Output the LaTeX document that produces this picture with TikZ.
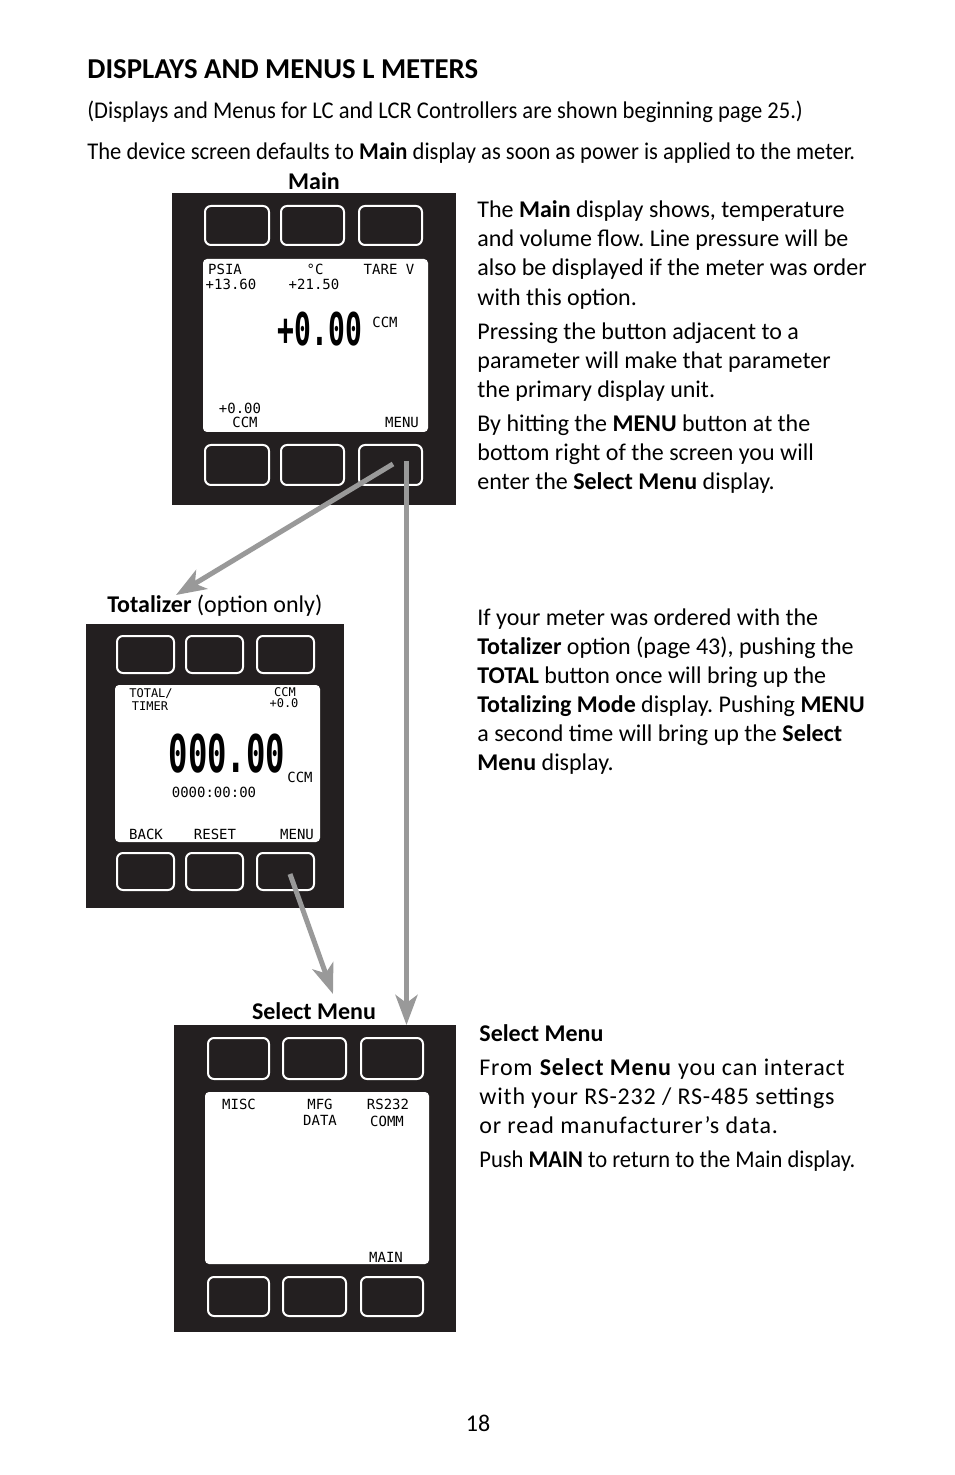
\documentclass[tikz,border=0pt]{standalone}
\usepackage{fontspec}
\setmainfont{Carlito}
\newfontfamily\lcdfont{DejaVu Sans Mono}
\newfontfamily\lcdbigfont[FakeStretch=0.62]{DejaVu Sans Mono}
\newfontfamily\narrowfont[FakeStretch=0.94]{Carlito}
\newfontfamily\widefont[LetterSpace=3.4]{Carlito}
\usetikzlibrary{arrows.meta}
\usepackage{xcolor}
\definecolor{panel}{HTML}{231F20}
\definecolor{arrowgray}{HTML}{999999}
\frenchspacing

\tikzset{
  body/.style={anchor=base west,inner sep=0,font=\fontsize{12}{14}\selectfont},
  lcd/.style={inner sep=0,font={\lcdfont\fontsize{7}{7.5}\selectfont}},
  lcdsmall/.style={inner sep=0,font={\lcdfont\fontsize{6}{6.5}\selectfont}},
  key/.style={draw=white,line width=1pt,rounded corners=3pt},
  flow/.style={draw=arrowgray,line width=2.5pt,-{Stealth[length=15pt,width=11pt,inset=4pt]}}
}

\begin{document}
\begin{tikzpicture}[x=0.5pt,y=-0.5pt]
  \fill[white] (0,0) rectangle (954,1475);
  \useasboundingbox (0,0) rectangle (954,1475);

  \node[anchor=base west,inner sep=0,font=\bfseries\fontsize{14.4}{16}\selectfont] (title) at (87,79) {DISPLAYS AND MENUS L METERS};
  \node[body,font={\narrowfont\fontsize{12}{14}\selectfont}] (intro1) at (87,119) {(Displays and Menus for LC and LCR Controllers are shown beginning page 25.)};
  \node[body,font={\narrowfont\fontsize{12}{14}\selectfont}] (intro2) at (87,160) {The device screen defaults to \textbf{Main} display as soon as power is applied to the meter.};

  \node[body,anchor=base,font=\bfseries\fontsize{12}{14}\selectfont] (mainlabel) at (314,190) {Main};
  \node[body] (totlabel) at (107,612) {\textbf{Totalizer} (option only)};
  \node[body,anchor=base,font=\bfseries\fontsize{12}{14}\selectfont] (sellabel) at (314,1019) {Select Menu};

  % main display
  \fill[panel] (172,193) rectangle (456,505);
  \foreach \a/\b in {205/269,281/344,359/422}{
    \draw[key] (\a,206) rectangle (\b,245);
    \draw[key] (\a,445) rectangle (\b,485);
  }
  \fill[white,rounded corners=2pt] (203,259) rectangle (428,432);
  \node[lcd] (psia) at (225,269) {PSIA};
  \node[lcd] (psiaval) at (231,284) {+13.60};
  \node[lcd] (degc) at (315,269) {°C};
  \node[lcd] (degcval) at (314,284) {+21.50};
  \node[lcd] (tare) at (389,269) {TARE V};
  \node[inner sep=0,font={\lcdbigfont\bfseries\fontsize{22.6}{24}\selectfont}] (flowval) at (320,329) {+0.00};
  \node[lcd] (flowunit) at (385,322) {CCM};
  \node[lcd] (smallval) at (240,408) {+0.00};
  \node[lcd] (smallunit) at (245,422) {CCM};
  \node[lcd] (mainmenu) at (402,422) {MENU};

  % totalizer display
  \fill[panel] (86,624) rectangle (344,908);
  \foreach \a/\b in {117/174,186/243,257/314}{
    \draw[key] (\a,636) rectangle (\b,673);
    \draw[key] (\a,853) rectangle (\b,890);
  }
  \fill[white,rounded corners=2pt] (115,685) rectangle (320,842);
  \node[lcdsmall] (totaltop) at (151,694) {TOTAL/};
  \node[lcdsmall] (timer) at (150,706) {TIMER};
  \node[lcdsmall] (totunit) at (285,692) {CCM};
  \node[lcdsmall] (totrate) at (284,703) {+0.0};
  \node[inner sep=0,font={\lcdbigfont\bfseries\fontsize{26}{28}\selectfont}] (totval) at (227,754) {000.00};
  \node[lcd] (totvalunit) at (300,777) {CCM};
  \node[lcd] (clock) at (214,792) {0000:00:00};
  \node[lcd] (back) at (146,834) {BACK};
  \node[lcd] (reset) at (215,834) {RESET};
  \node[lcd] (totmenu) at (297,834) {MENU};

  % select menu display
  \fill[panel] (174,1025) rectangle (456,1332);
  \foreach \a/\b in {208/269,283/346,361/423}{
    \draw[key] (\a,1038) rectangle (\b,1079);
    \draw[key] (\a,1277) rectangle (\b,1316);
  }
  \fill[white,rounded corners=2pt] (205,1092) rectangle (429,1264);
  \node[lcd] (misc) at (239,1104) {MISC};
  \node[lcd] (mfg) at (320,1104) {MFG};
  \node[lcd] (mfgdata) at (320,1120) {DATA};
  \node[lcd] (rscomm) at (388,1104) {RS232};
  \node[lcd] (comm) at (387,1121) {COMM};
  \node[lcd] (selmain) at (386,1257) {MAIN};

  % right column
  \foreach \t [count=\i from 0] in {{The \textbf{Main} display shows, temperature},{and volume flow. Line pressure will be},{also be displayed if the meter was order},{with this option.}}
    \node[body] (maintxt\i) at (477,217.5+29.2*\i) {\t};
  \foreach \t [count=\i from 0] in {{Pressing the button adjacent to a},{parameter will make that parameter},{the primary display unit.}}
    \node[body] (presstxt\i) at (477,339.5+29.2*\i) {\t};
  \foreach \t [count=\i from 0] in {{By hitting the \textbf{MENU} button at the},{bottom right of the screen you will},{enter the \textbf{Select Menu} display.}}
    \node[body] (hittxt\i) at (477,431.5+29.2*\i) {\t};
  \foreach \t [count=\i from 0] in {{If your meter was ordered with the},{\textbf{Totalizer} option (page 43), pushing the},{\textbf{TOTAL} button once will bring up the},{\textbf{Totalizing Mode} display. Pushing \textbf{MENU}},{a second time will bring up the \textbf{Select}},{\textbf{Menu} display.}}
    \node[body] (tottxt\i) at (477,625.5+29*\i) {\t};
  \node[body,font=\bfseries\fontsize{12}{14}\selectfont] (selhead) at (479,1041.5) {Select Menu};
  \foreach \t [count=\i from 0] in {{From \textbf{Select Menu} you can interact},{with your RS-232 / RS-485 settings},{or read manufacturer’s data.}}
    \node[body,font={\widefont\fontsize{12}{14}\selectfont}] (seltxt\i) at (479,1075.5+29*\i) {\t};
  \node[body,font={\narrowfont\fontsize{12}{14}\selectfont}] (pushtxt) at (479,1167.5) {Push \textbf{MAIN} to return to the Main display.};

  \node[anchor=base,inner sep=0,font=\fontsize{12}{14}\selectfont] (pagenum) at (478,1431) {18};

  % arrows
  \coordinate (mainkeyA) at (393,464);
  \coordinate (mainkeyB) at (406.5,461);
  \coordinate (totkey) at (290,874);
  \coordinate (tottip) at (176,595);
  \coordinate (seltip) at (333,994);
  \coordinate (seltop) at (406.5,1025);
  \draw[flow] (mainkeyA) -- (tottip);
  \draw[flow] (mainkeyB) -- (seltop);
  \draw[flow] (totkey) -- (seltip);
\end{tikzpicture}
\end{document}
